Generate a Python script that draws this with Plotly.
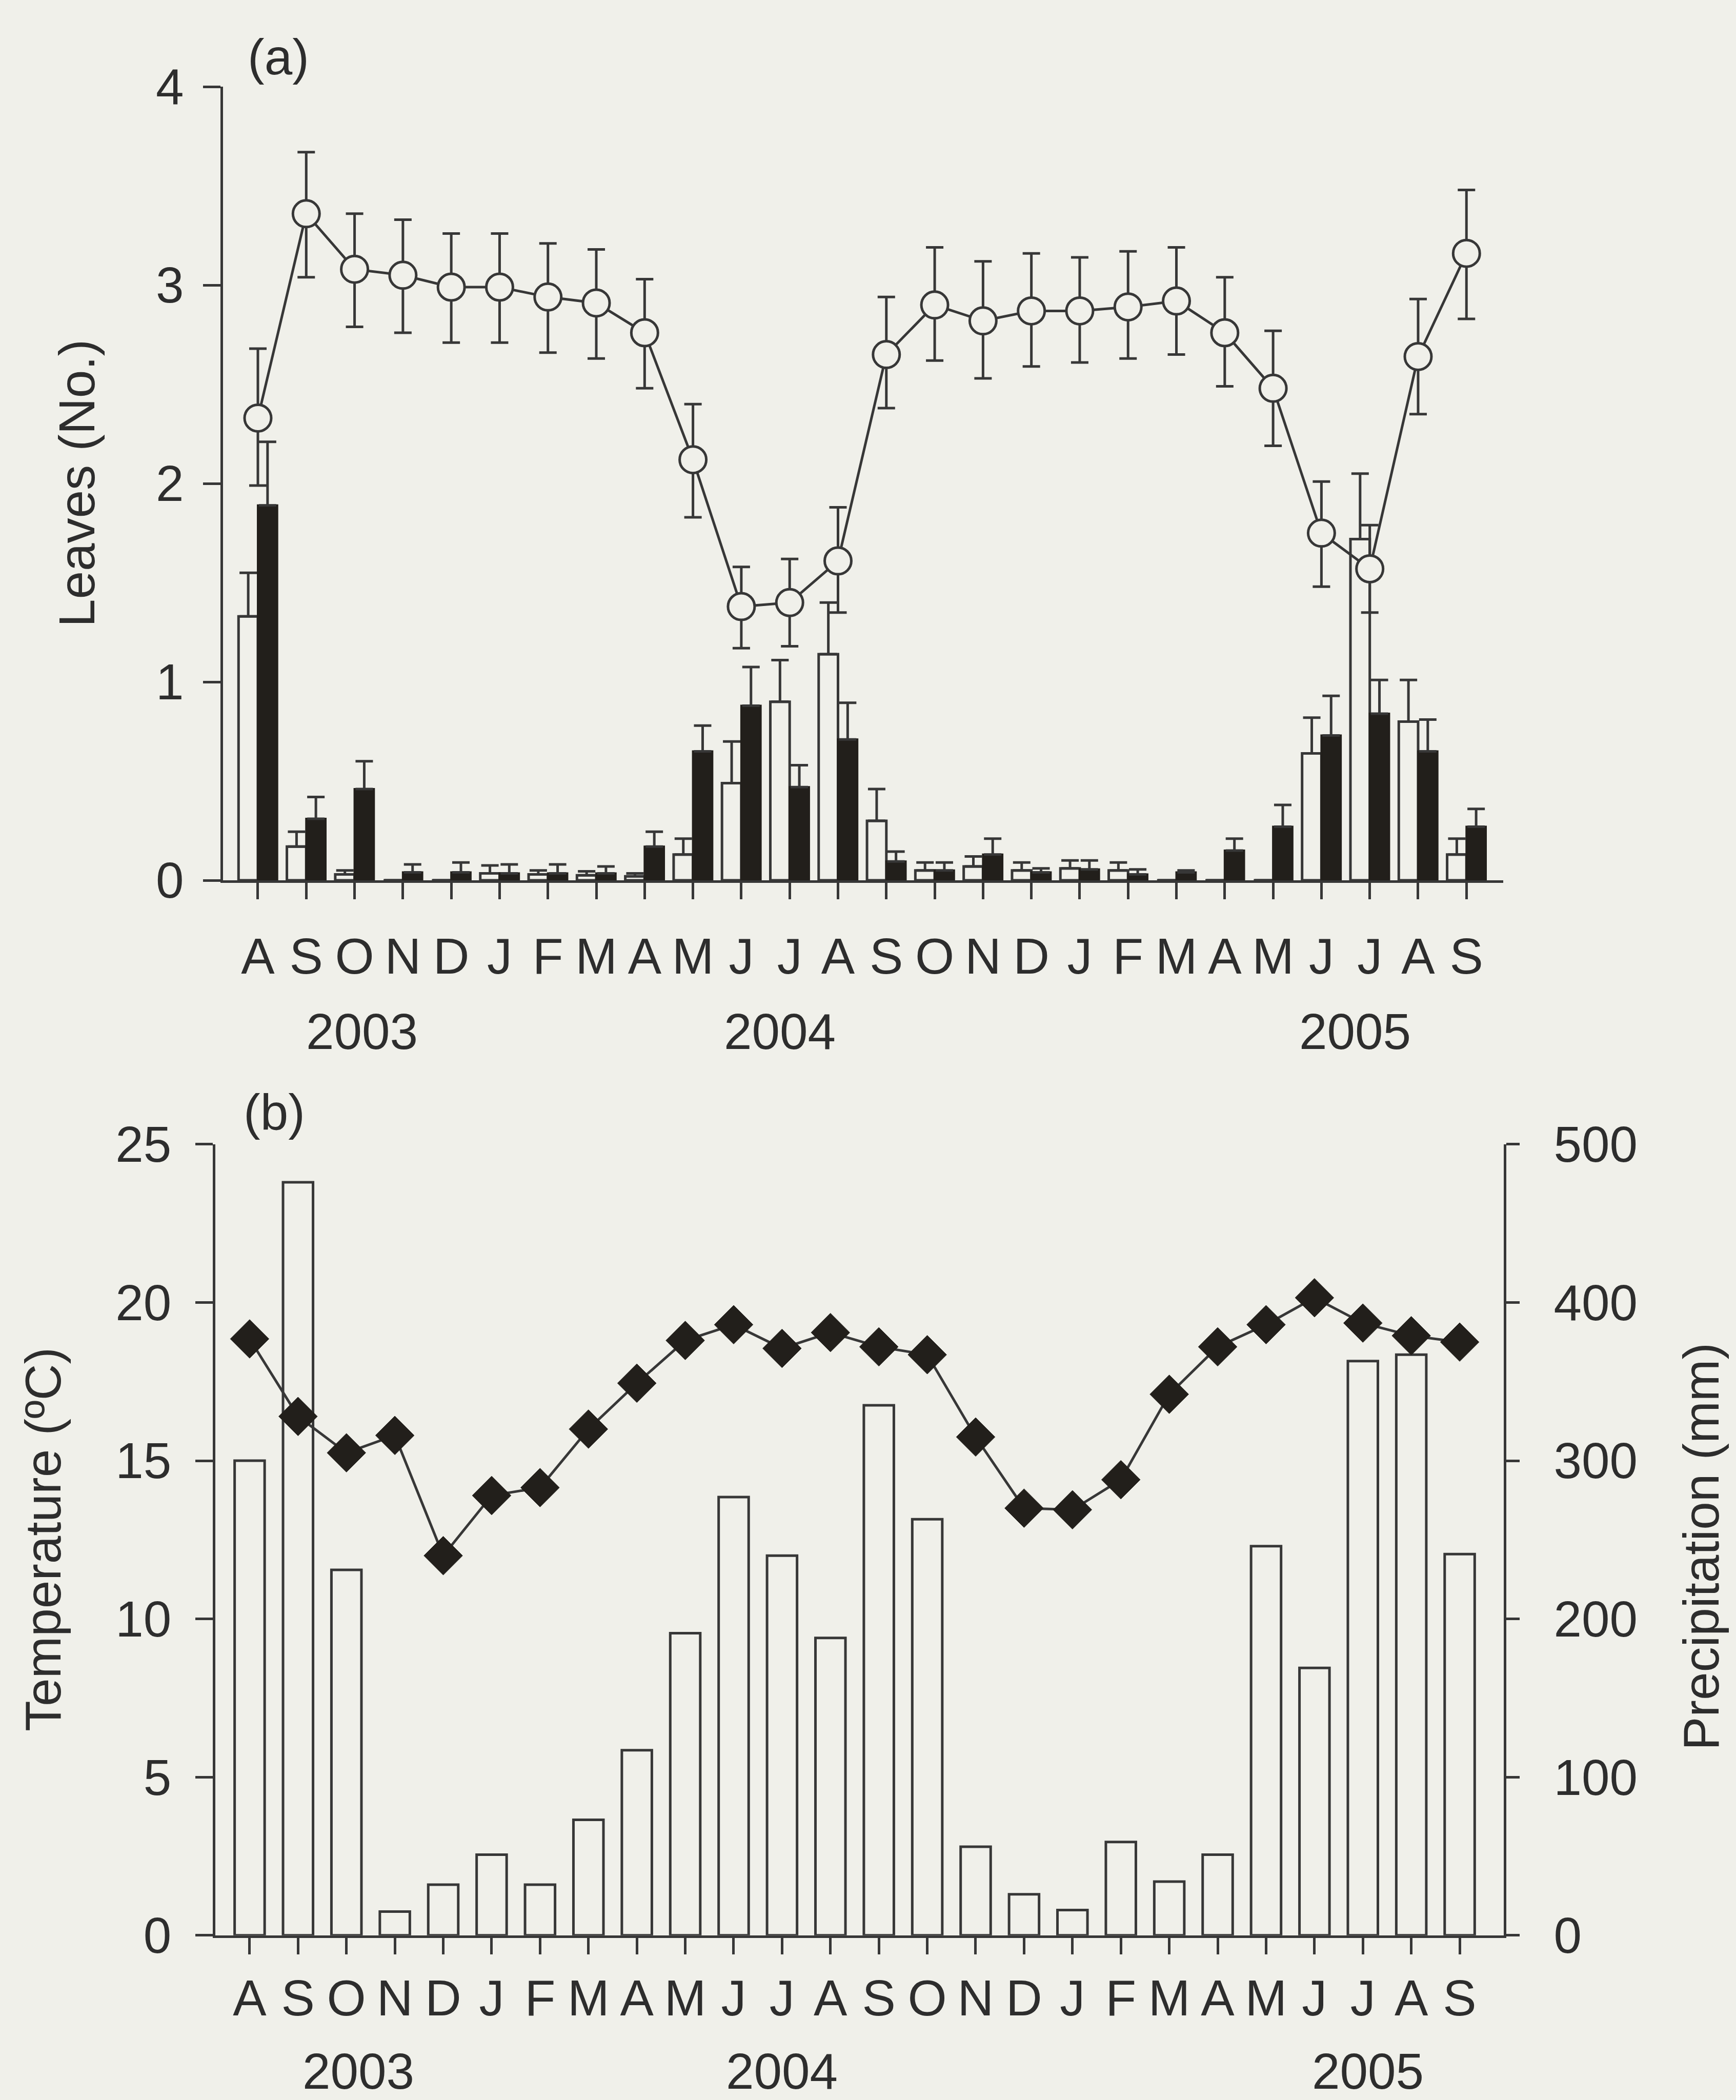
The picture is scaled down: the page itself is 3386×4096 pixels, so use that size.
import plotly.graph_objects as go

# ---------------- data ----------------
months = ["A", "S", "O", "N", "D", "J", "F", "M", "A", "M", "J", "J", "A",
          "S", "O", "N", "D", "J", "F", "M", "A", "M", "J", "J", "A", "S"]
month_idx = list(range(len(months)))
years = ["2003", "2004", "2005"]
year_pos_a = [2.15, 10.8, 22.7]
year_pos_b = [2.25, 11.0, 23.1]

# panel (a): total leaves (circles) mean, upper and lower error limits
leaves_mean = [2.33, 3.36, 3.08, 3.05, 2.99, 2.99, 2.94, 2.91, 2.76, 2.12, 1.38, 1.40, 1.61,
               2.65, 2.90, 2.82, 2.87, 2.87, 2.89, 2.92, 2.76, 2.48, 1.75, 1.57, 2.64, 3.16]
leaves_hi = [2.68, 3.67, 3.36, 3.33, 3.26, 3.26, 3.21, 3.18, 3.03, 2.40, 1.58, 1.62, 1.88,
             2.94, 3.19, 3.12, 3.16, 3.14, 3.17, 3.19, 3.04, 2.77, 2.01, 1.79, 2.93, 3.48]
leaves_lo = [1.99, 3.04, 2.79, 2.76, 2.71, 2.71, 2.66, 2.63, 2.48, 1.83, 1.17, 1.18, 1.35,
             2.38, 2.62, 2.53, 2.59, 2.61, 2.63, 2.65, 2.49, 2.19, 1.48, 1.35, 2.35, 2.83]

# new leaves (white bars) and senescent leaves (black bars), with upper error limit
white_val = [1.33, 0.17, 0.03, 0.0, 0.0, 0.035, 0.03, 0.025, 0.02, 0.13, 0.49, 0.90, 1.14,
             0.30, 0.05, 0.07, 0.05, 0.06, 0.05, 0.0, 0.0, 0.0, 0.64, 1.72, 0.80, 0.13]
white_top = [1.55, 0.245, 0.05, 0.0, 0.0, 0.075, 0.05, 0.045, 0.035, 0.21, 0.70, 1.11, 1.40,
             0.46, 0.09, 0.12, 0.09, 0.10, 0.09, 0.0, 0.0, 0.0, 0.82, 2.05, 1.01, 0.21]
black_val = [1.89, 0.31, 0.46, 0.04, 0.04, 0.035, 0.035, 0.035, 0.17, 0.65, 0.88, 0.47, 0.71,
             0.095, 0.05, 0.13, 0.04, 0.055, 0.03, 0.04, 0.15, 0.27, 0.73, 0.84, 0.65, 0.27]
black_top = [2.21, 0.42, 0.60, 0.08, 0.09, 0.08, 0.08, 0.07, 0.245, 0.78, 1.075, 0.58, 0.895,
             0.145, 0.09, 0.21, 0.06, 0.10, 0.055, 0.05, 0.21, 0.38, 0.93, 1.01, 0.81, 0.36]

# panel (b): temperature (deg C) and precipitation (mm)
temperature = [18.85, 16.4, 15.25, 15.8, 12.0, 13.9, 14.15, 16.0, 17.45, 18.8, 19.3, 18.55, 19.05,
               18.6, 18.35, 15.75, 13.5, 13.45, 14.4, 17.1, 18.6, 19.3, 20.15, 19.35, 18.95, 18.75]
precipitation = [300, 476, 231, 15, 32, 51, 32, 73, 117, 191, 277, 240, 188,
                 335, 263, 56, 26, 16, 59, 34, 51, 246, 169, 363, 367, 241]

# ---------------- style ----------------
BG = "rgb(240,240,234)"
INK = "rgb(55,55,55)"
DARK = "rgb(34,31,27)"
TXT = "rgb(45,45,45)"
FONT = "Liberation Sans, Arial, sans-serif"
FS = 98
W, H = 3386, 4096

fig = go.Figure()

# ---- panel (a) ----
fig.add_trace(go.Bar(
    x=month_idx, y=white_val, xaxis="x", yaxis="y",
    marker=dict(color=BG, line=dict(color=INK, width=5)),
    error_y=dict(type="data", array=[t - v for t, v in zip(white_top, white_val)],
                 arrayminus=[0] * len(white_val), symmetric=False,
                 color=INK, thickness=5, width=17, visible=True),
    showlegend=False))
fig.add_trace(go.Bar(
    x=month_idx, y=black_val, xaxis="x", yaxis="y",
    marker=dict(color=DARK, line=dict(color=DARK, width=4)),
    error_y=dict(type="data", array=[t - v for t, v in zip(black_top, black_val)],
                 arrayminus=[0] * len(black_val), symmetric=False,
                 color=INK, thickness=5, width=17, visible=True),
    showlegend=False))
fig.add_trace(go.Scatter(
    x=month_idx, y=leaves_mean, xaxis="x", yaxis="y", mode="lines+markers",
    line=dict(color=INK, width=5),
    marker=dict(symbol="circle", size=52, color=BG, line=dict(color=INK, width=5)),
    error_y=dict(type="data", array=[h - m for h, m in zip(leaves_hi, leaves_mean)],
                 arrayminus=[m - l for m, l in zip(leaves_mean, leaves_lo)], symmetric=False,
                 color=INK, thickness=5, width=17),
    showlegend=False))

# ---- panel (b) ----
fig.add_trace(go.Bar(
    x=month_idx, y=precipitation, xaxis="x2", yaxis="y3", width=0.62,
    marker=dict(color=BG, line=dict(color=INK, width=5)),
    showlegend=False))
fig.add_trace(go.Scatter(
    x=month_idx, y=temperature, xaxis="x2", yaxis="y4", mode="lines+markers",
    line=dict(color=INK, width=5),
    marker=dict(symbol="diamond", size=58, color=DARK, line=dict(color=DARK, width=1)),
    showlegend=False))

axis_common = dict(showgrid=False, zeroline=False, showline=True, linecolor=INK, linewidth=5,
                   ticks="outside", tickcolor=INK, tickwidth=5, automargin=False,
                   tickfont=dict(family=FONT, size=FS, color=TXT))

fig.update_layout(
    template="none",
    width=W, height=H, margin=dict(l=0, r=0, t=0, b=0, autoexpand=False),
    paper_bgcolor=BG, plot_bgcolor=BG,
    barmode="group", bargap=0.2, bargroupgap=0.0,
    font=dict(family=FONT, size=FS, color=TXT),
    xaxis=dict(domain=[0.1285, 0.8659], range=[-0.72, 25.76], anchor="y",
               tickmode="array", tickvals=month_idx, ticktext=months,
               ticklen=32, ticklabelstandoff=27, **axis_common),
    yaxis=dict(domain=[0.5808, 0.9587], range=[0, 4], anchor="x",
               tickmode="array", tickvals=[0, 1, 2, 3, 4],
               ticklen=34, ticklabelstandoff=18, **axis_common),
    xaxis2=dict(domain=[0.1240, 0.8662], range=[-0.71, 25.91], anchor="y3",
                tickmode="array", tickvals=month_idx, ticktext=months,
                ticklen=32, ticklabelstandoff=2, **axis_common),
    yaxis3=dict(domain=[0.0784, 0.4551], range=[0, 500], anchor="x2", side="right",
                tickmode="array", tickvals=[0, 100, 200, 300, 400, 500],
                ticklen=26, ticklabelstandoff=47, **axis_common),
    yaxis4=dict(range=[0, 25], anchor="x2", overlaying="y3", side="left",
                tickmode="array", tickvals=[0, 5, 10, 15, 20, 25],
                ticklen=34, ticklabelstandoff=27, **axis_common),
)

ann = []
ann.append(dict(text="(a)", x=543 / W, y=1 - 111 / H, xref="paper", yref="paper",
                showarrow=False, xanchor="center", yanchor="middle", font=dict(size=FS)))
ann.append(dict(text="(b)", x=535 / W, y=1 - 2169 / H, xref="paper", yref="paper",
                showarrow=False, xanchor="center", yanchor="middle", font=dict(size=FS)))
ann.append(dict(text="Leaves (No.)", x=150 / W, y=1 - 943 / H, xref="paper", yref="paper",
                textangle=-90, showarrow=False, xanchor="center", yanchor="middle",
                font=dict(size=FS)))
ann.append(dict(text="Temperature (ºC)", x=84 / W, y=1 - 3003 / H, xref="paper", yref="paper",
                textangle=-90, showarrow=False, xanchor="center", yanchor="middle",
                font=dict(size=FS)))
ann.append(dict(text="Precipitation (mm)", x=3318 / W, y=1 - 3017 / H, xref="paper", yref="paper",
                textangle=-90, showarrow=False, xanchor="center", yanchor="middle",
                font=dict(size=FS)))
for yr, xp in zip(years, year_pos_a):
    ann.append(dict(text=yr, x=xp, y=1 - 2012 / H, xref="x", yref="paper", showarrow=False,
                    xanchor="center", yanchor="middle", font=dict(size=FS)))
for yr, xp in zip(years, year_pos_b):
    ann.append(dict(text=yr, x=xp, y=1 - 4040 / H, xref="x2", yref="paper", showarrow=False,
                    xanchor="center", yanchor="middle", font=dict(size=FS)))
fig.update_layout(annotations=ann)

fig.write_html("out.html")
